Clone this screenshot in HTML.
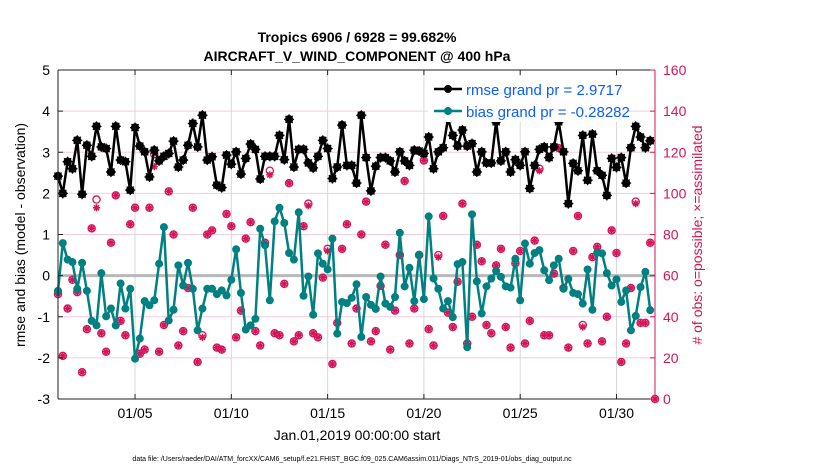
<!DOCTYPE html>
<html><head><meta charset="utf-8"><style>
body{margin:0;background:#fff;}
svg{display:block;font-family:"Liberation Sans",sans-serif;}
</style></head><body>
<svg id="chart" width="830" height="470" viewBox="0 0 830 470">
<text x="357" y="42" text-anchor="middle" font-size="14" font-weight="bold">Tropics 6906 / 6928 = 99.682%</text>
<text x="357" y="61" text-anchor="middle" font-size="14" font-weight="bold">AIRCRAFT_V_WIND_COMPONENT @ 400 hPa</text>
<g id="grid"></g>
<g id="marks"></g>
<g id="axes"></g>
<text transform="translate(25,235) rotate(-90)" text-anchor="middle" font-size="14">rmse and bias (model - observation)</text>
<text transform="translate(702,235) rotate(-90)" text-anchor="middle" font-size="14" fill="#d4145a"># of obs: o=possible; ×=assimilated</text>
<text x="357" y="440" text-anchor="middle" font-size="14">Jan.01,2019 00:00:00 start</text>
<text x="352" y="461" text-anchor="middle" font-size="7">data file: /Users/raeder/DAI/ATM_forcXX/CAM6_setup/f.e21.FHIST_BGC.f09_025.CAM6assim.011/Diags_NTrS_2019-01/obs_diag_output.nc</text>
<g>
<rect x="428" y="76" width="200" height="46" fill="#fff"></rect>
<g>
<line x1="434" y1="89" x2="462" y2="89" stroke="#000" stroke-width="2.5"></line>
<circle cx="448" cy="89" r="4" fill="#000"></circle>
<text x="466" y="95" font-size="15" fill="#0a5cff">rmse grand pr = 2.9717</text>
</g>
<g>
<line x1="434" y1="111" x2="462" y2="111" stroke="#008080" stroke-width="2.5"></line>
<circle cx="448" cy="111" r="4" fill="#008080"></circle>
<text x="466" y="117" font-size="15" fill="#0a5cff">bias grand pr = -0.28282</text>
</g>
</g>
</svg>
<script>
const rmse=[2.42,2.0,2.77,2.6,3.29,1.98,3.17,2.9,3.63,3.13,3.09,2.52,3.63,2.81,2.77,2.08,3.6,3.15,3.01,2.4,3.05,2.79,2.9,2.97,3.27,2.64,2.81,3.17,3.7,3.13,3.9,2.81,
2.89,2.2,2.14,2.93,2.71,3.01,2.47,2.85,3.2,3.07,2.35,2.9,2.9,2.9,3.41,2.82,3.8,2.64,3.07,3.07,2.74,2.62,2.9,3.29,3.09,2.36,2.64,3.66,2.68,2.68,2.25,
3.9,2.87,2.06,2.66,2.87,2.87,2.79,2.52,3.01,2.79,2.68,3.05,3.03,2.97,3.37,2.6,3.01,3.11,3.82,3.41,3.15,3.54,3.15,3.21,2.52,3.01,2.74,2.74,3.74,2.79,3.01,
2.52,2.82,2.68,3.01,2.12,2.68,3.07,3.13,2.87,3.13,3.74,3.01,1.75,2.73,2.55,3.41,2.32,3.44,2.55,2.44,1.95,2.85,2.63,2.87,2.25,3.11,3.63,3.37,3.11,3.28];
const bias=[-0.37,0.79,0.39,0.33,-0.32,0.31,-0.37,-1.1,-1.21,0.06,-0.99,-0.8,-1.21,-0.19,-0.8,-0.32,-2.02,-1.53,-0.62,-0.72,-0.6,0.29,1.18,-1.09,-0.83,0.25,-0.24,0.31,-0.32,-1.33,-0.8,-0.32,
-0.32,-0.45,-0.36,-0.48,-0.1,0.64,-0.42,-1.31,-1.21,-1.05,1.14,0.74,-0.6,1.32,1.65,1.28,0.55,0.39,1.54,-0.49,-0.02,-0.95,0.54,0.29,0.15,0.9,-1.41,-0.64,-0.67,-0.54,-0.21,
-1.49,-0.52,-0.71,-0.81,-0.02,-0.68,-0.76,-0.52,1.04,-0.26,0.19,-0.62,0.51,-0.57,1.44,-0.07,-0.32,-0.8,-0.62,-1.01,0.28,0.33,-1.74,1.49,-0.14,-0.92,-0.26,-0.07,0.11,-0.03,-0.26,
-0.29,0.41,-0.6,0.78,0.29,0.55,0.62,0.13,-0.11,0.25,0.41,-0.32,-0.08,-0.42,-0.45,-0.68,0.15,-0.83,0.56,0.54,0.06,-0.24,-0.09,-0.64,-0.36,-1.33,-0.98,-0.28,0.09,-0.84];
const obsPossible=[51,21,44,58,52,13,34,83,97,32,23,76,99,38,31,85,93,22,24,93,119,23,36,101,80,26,33,54,93,18,31,80,
82,25,24,90,84,30,43,78,86,33,26,76,111,32,31,56,105,28,31,84,95,32,30,59,73,17,37,73,85,27,44,
80,96,28,33,55,75,24,43,70,106,27,44,70,116,34,26,70,89,42,35,57,95,27,40,75,67,36,32,65,73,35,
25,66,72,27,38,77,112,31,31,61,122,54,25,72,89,36,27,69,74,28,40,82,71,18,27,54,96,37,37,76,0];
const obsAssim=[51,21,44,58,52,13,34,83,93,32,23,76,99,38,31,85,93,22,24,93,113,23,36,101,80,26,33,54,93,18,30,80,
82,25,24,90,84,30,43,78,86,33,26,76,109,32,31,56,105,28,31,84,94,32,30,59,72,17,37,73,85,27,44,
80,96,28,33,55,75,24,43,70,106,27,44,70,116,34,26,69,89,42,35,57,95,27,40,75,67,36,32,65,73,35,
25,66,72,27,38,77,111,31,31,61,122,54,25,72,89,35,27,69,74,28,40,82,71,18,27,54,95,37,37,76,0];
const leftTicks=[-3,-2,-1,0,1,2,3,4,5];
const rightTicks=[0,20,40,60,80,100,120,140,160];
const xTickDays=[4,9,14,19,24,29];
const xTickLabels=["01/05","01/10","01/15","01/20","01/25","01/30"];

const NS="http://www.w3.org/2000/svg";
const X0=58,X1=655,Y0=70,Y1=399,DAYS=31;
const xs=d=>X0+d/DAYS*(X1-X0);
const yL=v=>Y1-(v+3)/8*(Y1-Y0);
const yR=v=>Y1-v/160*(Y1-Y0);
const tDay=i=>i*0.25;
function mk(tag,attrs,parent){const e=document.createElementNS(NS,tag);for(const k in attrs)e.setAttribute(k,attrs[k]);parent.appendChild(e);return e;}
const grid=document.getElementById('grid'),marks=document.getElementById('marks'),axes=document.getElementById('axes');
mk('rect',{x:X0,y:Y0,width:X1-X0,height:Y1-Y0,fill:'#fff'},grid);
rightTicks.forEach(v=>{const l=mk('line',{x1:X0,x2:X1,y1:yR(v),y2:yR(v),stroke:'#f2cedb','stroke-width':1},grid);

});
xTickDays.forEach(d=>{const l=mk('line',{x1:xs(d),x2:xs(d),y1:Y0,y2:Y1,stroke:'#d8d8d8','stroke-width':1},grid);

});
const z=mk('line',{x1:X0,x2:X1,y1:yL(0),y2:yL(0),stroke:'#b8b8b8','stroke-width':3},grid);


// obs counts
const pink='#d4145a';
obsPossible.forEach((v,i)=>{const c=mk('circle',{cx:xs(tDay(i)),cy:yR(v),r:3.6,fill:'none',stroke:pink,'stroke-width':1.3},marks);

});
obsAssim.forEach((v,i)=>{const x=xs(tDay(i)),y=yR(v),r=3.6;const g=mk('g',{stroke:pink,'stroke-width':1.5},marks);


[0,45,90,135].forEach(a=>{const dx=r*Math.cos(a*Math.PI/180),dy=r*Math.sin(a*Math.PI/180);mk('line',{x1:x-dx,y1:y-dy,x2:x+dx,y2:y+dy},g);});});
function series(arr,color,name,star){
  const pts=arr.map((v,i)=>xs(tDay(i)).toFixed(1)+','+yL(v).toFixed(1)).join(' ');
  const pl=mk('polyline',{points:pts,fill:'none',stroke:color,'stroke-width':2.5,'stroke-linejoin':'round'},marks);
  
  
  arr.forEach((v,i)=>{const x=xs(tDay(i)),y=yL(v);const c=mk('circle',{cx:x,cy:y,r:star?4.2:4,fill:color},marks);
  
  
  if(star){[0,45,90,135].forEach(a=>{const dx=5*Math.cos(a*Math.PI/180),dy=5*Math.sin(a*Math.PI/180);mk('line',{x1:x-dx,y1:y-dy,x2:x+dx,y2:y+dy,stroke:color,'stroke-width':1.3},marks);});}});
}
series(bias,'#008080','bias',false);
series(rmse,'#000','rmse',true);
// axes box
mk('line',{x1:X0,x2:X1,y1:Y0,y2:Y0,stroke:'#222','stroke-width':1},axes);
mk('line',{x1:X0,x2:X1,y1:Y1,y2:Y1,stroke:'#222','stroke-width':1},axes);
mk('line',{x1:X0,x2:X0,y1:Y0,y2:Y1,stroke:'#222','stroke-width':1},axes);
mk('line',{x1:X1,x2:X1,y1:Y0,y2:Y1,stroke:pink,'stroke-width':1},axes);
leftTicks.forEach(v=>{const y=yL(v);mk('line',{x1:X0,x2:X0+5,y1:y,y2:y,stroke:'#222'},axes);
const t=mk('text',{x:X0-8,y:y+5,'text-anchor':'end','font-size':14},axes);t.textContent=v;

});
rightTicks.forEach(v=>{const y=yR(v);mk('line',{x1:X1-5,x2:X1,y1:y,y2:y,stroke:pink},axes);
const t=mk('text',{x:X1+8,y:y+5,'font-size':14,fill:pink},axes);t.textContent=v;

});
xTickDays.forEach((d,k)=>{const x=xs(d);mk('line',{x1:x,x2:x,y1:Y1,y2:Y1-5,stroke:'#222'},axes);mk('line',{x1:x,x2:x,y1:Y0,y2:Y0+5,stroke:'#222'},axes);
const t=mk('text',{x:x,y:Y1+19,'text-anchor':'middle','font-size':14},axes);t.textContent=xTickLabels[k];

});
</script>
</body></html>
